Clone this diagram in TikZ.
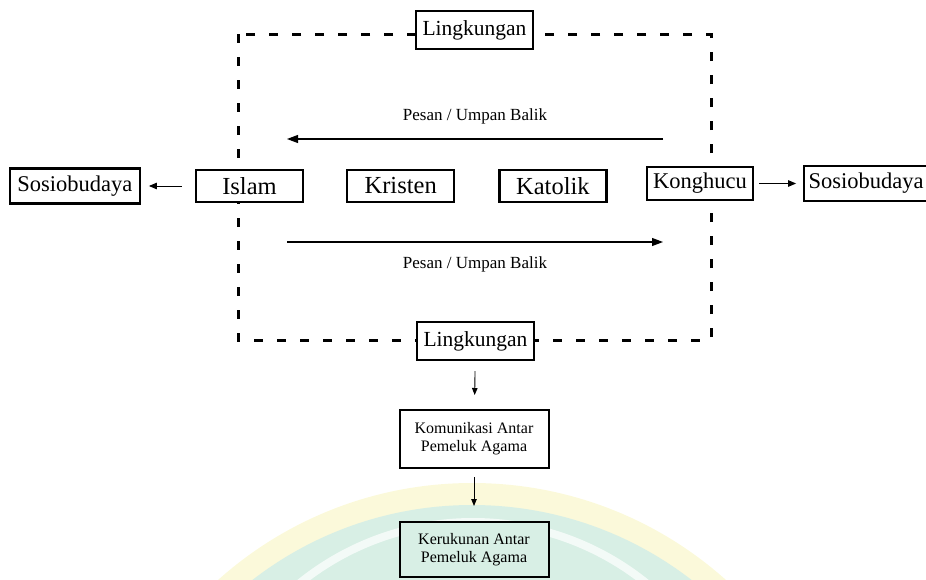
\documentclass[tikz,border=0pt]{standalone}
\usepackage{fontspec}
\setmainfont{Liberation Serif}
\usetikzlibrary{arrows.meta,positioning,calc}

\definecolor{wmyellow}{RGB}{251,249,218}
\definecolor{wmgreen}{RGB}{216,239,229}

\begin{document}
\begin{tikzpicture}[x=1pt, y=1pt,
        box/.style={draw, line width=2.2pt, fill=white, inner sep=0pt, minimum width=107pt, minimum height=32pt, font=\fontsize{24.5}{26}\selectfont},
        sbox/.style={box, minimum height=35pt, font=\fontsize{22.5}{24}\selectfont},
        lbox/.style={box, minimum width=117pt, minimum height=38pt, font=\fontsize{21.5}{24}\selectfont},
        tbox/.style={draw, line width=2pt, fill=white, align=center, inner sep=0pt, minimum width=149pt, font=\fontsize{16}{18}\selectfont},
        lbl/.style={inner sep=0pt, font=\fontsize{17}{19}\selectfont},
        arr/.style={-{Triangle[length=11pt,width=8pt]}, line width=1.1pt},
        sarr/.style={-{Triangle[length=8pt,width=6.5pt]}, line width=1pt},
        darr/.style={-{Triangle[length=7pt,width=5.5pt]}, line width=0.9pt},
        frame/.style={line width=3pt, dash pattern=on 9pt off 14pt}
    ]
        \useasboundingbox (0,0) rectangle (926,-579);

        % Watermark
        \begin{scope}
            \clip (0,0) rectangle (926,-579);
            \fill[wmyellow] (472,-864) circle (381);
            \fill[wmgreen] (472,-864) circle (359);
            \draw[white, line width=8pt, opacity=0.7] (473,-798) circle (276);
        \end{scope}

        % Environment frame
        \coordinate (fnw) at (238,-34);
        \coordinate (fse) at (711,-340);
        \draw[frame] (fnw) rectangle (fse);
        \node[lbox] (lingT) at (474.5,-30) {Lingkungan};
        \node[lbox] (lingB) at (475.5,-341) {Lingkungan};

        % Religions
        \node[box] (islam) at (249.5,-186) {Islam};
        \node[box, right=42pt of islam] (kristen) {Kristen};
        \node[box, right=43pt of kristen] (katolik) {Katolik};
        \node[box, minimum width=106pt, minimum height=33pt, font=\fontsize{22.5}{24}\selectfont] (konghucu) at (700,-183.5) {Konghucu};

        % Sociocultural
        \node[sbox, minimum width=130pt, left=54pt of islam] (sosL) {Sosiobudaya};
        \node[sbox, minimum width=124pt, right=49pt of konghucu] (sosR) {Sosiobudaya};

        % Outcome
        \node[tbox, minimum height=58pt] (kom) at (474,-439) {Komunikasi Antar\\Pemeluk Agama};
        \node[tbox, minimum height=55pt, fill=wmgreen] (rukun) at (474,-549.5) {Kerukunan Antar\\Pemeluk Agama};

        % Message arrows
        \coordinate (m1s) at (663,-139);
        \coordinate (m1e) at (287,-139);
        \coordinate (m2s) at (287,-242);
        \coordinate (m2e) at (663,-242);
        \draw[arr] (m1s) -- node[lbl, above=14pt] {Pesan / Umpan Balik} (m1e);
        \draw[arr] (m2s) -- node[lbl, below=14pt] {Pesan / Umpan Balik} (m2e);

        % Arrows
        \draw[sarr, shorten <=13pt, shorten >=8pt] (islam) -- (sosL);
        \draw[sarr, shorten <=5pt, shorten >=7pt] (konghucu) -- (sosR);
        \draw[darr, shorten <=10pt, shorten >=14pt] (lingB) -- (kom);
        \draw[darr, shorten <=8pt, shorten >=15pt] (kom) -- (rukun);
    \end{tikzpicture}
\end{document}
